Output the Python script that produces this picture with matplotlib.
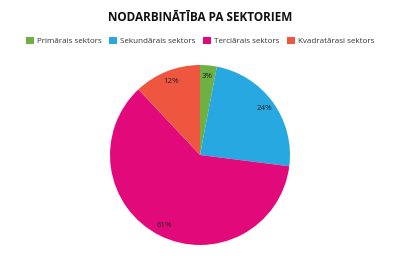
import matplotlib
matplotlib.use("Agg")
from matplotlib import pyplot as plt
from matplotlib.patches import Patch

plt.rcParams['font.family'] = ['Open Sans', 'DejaVu Sans']

labels = ["Primārais sektors", "Sekundārais sektors", "Terciārais sektors", "Kvadratārasi sektors"]
values = [3, 24, 61, 12]
colors = ["#6fb043", "#28a8e0", "#e2097b", "#ee5640"]

fig = plt.figure(figsize=(4, 2.56), dpi=100)
fig.text(0.5, 0.93, "NODARBINĀTĪBA PA SEKTORIEM", ha="center", va="center",
         fontsize=8.5, fontweight="bold", color="#111111")

ax = fig.add_axes([0.275, 0.043, 0.45, 0.703])
wedges, texts, autotexts = ax.pie(values, colors=colors, startangle=90, counterclock=False,
                                  autopct="%1.0f%%", pctdistance=0.88,
                                  textprops={"fontsize": 5.7, "color": "#222222"})
ax.set_xlim(-1, 1)
ax.set_ylim(-1, 1)
ax.set_aspect("equal")

handles = [Patch(facecolor=c, edgecolor="none") for c in colors]
fig.legend(handles, labels, loc="center", bbox_to_anchor=(0.5, 0.84), ncol=4, frameon=False,
           fontsize=5.8, handlelength=1.0, handleheight=1.0, handletextpad=0.4,
           columnspacing=0.9, labelcolor="#333333")

fig.savefig("out.png", dpi=100)
